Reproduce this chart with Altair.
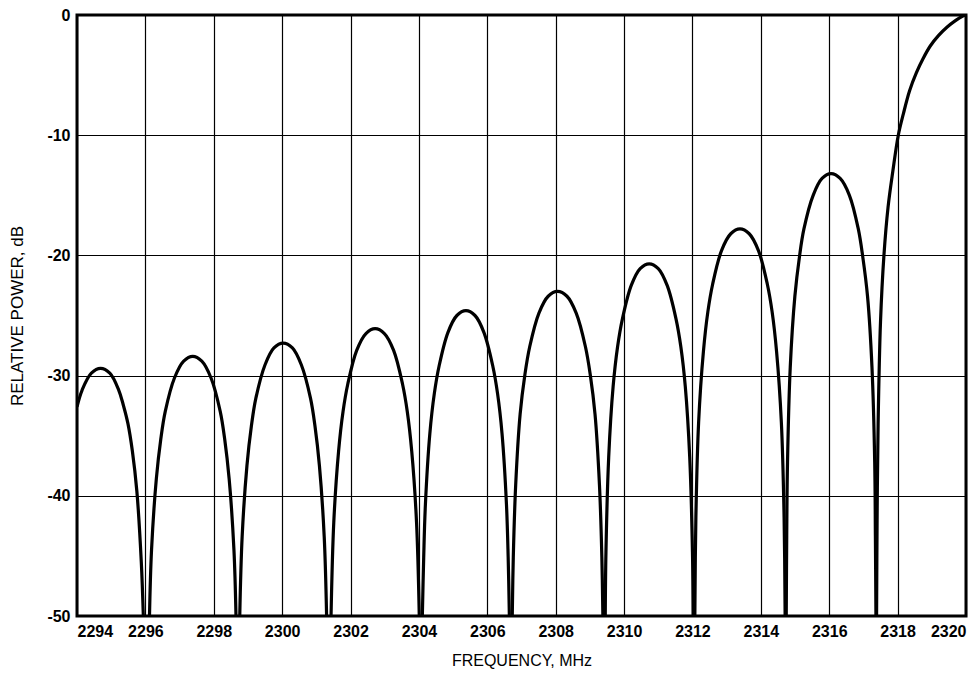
import altair as alt
import pandas as pd

# Frequency (MHz) and relative power (dB) estimated along the plotted curve, lobe by lobe
FREQ_MHZ = [
    # sidelobe 1 (enters at left edge)
    2294.00, 2294.15, 2294.42, 2294.69, 2294.96, 2295.22, 2295.35, 2295.49, 2295.62, 2295.75, 2295.88, 2295.94,
    # sidelobe 2
    2296.12, 2296.18, 2296.32, 2296.45, 2296.58, 2296.85, 2297.12, 2297.385, 2297.65, 2297.92, 2298.19, 2298.32, 2298.45, 2298.59, 2298.65,
    # sidelobe 3
    2298.76, 2298.83, 2298.97, 2299.10, 2299.23, 2299.50, 2299.76, 2300.03, 2300.30, 2300.56, 2300.83, 2300.96, 2301.09, 2301.23, 2301.30,
    # sidelobe 4
    2301.43, 2301.51, 2301.65, 2301.78, 2301.92, 2302.18, 2302.45, 2302.72, 2302.99, 2303.26, 2303.52, 2303.66, 2303.79, 2303.93, 2304.01,
    # sidelobe 5
    2304.10, 2304.14, 2304.19, 2304.32, 2304.45, 2304.59, 2304.85, 2305.11, 2305.375, 2305.64, 2305.90, 2306.16, 2306.30, 2306.43, 2306.56, 2306.61, 2306.645,
    # sidelobe 6
    2306.73, 2306.76, 2306.83, 2306.96, 2307.10, 2307.24, 2307.51, 2307.78, 2308.055, 2308.33, 2308.60, 2308.87, 2309.01, 2309.15, 2309.28, 2309.35, 2309.38,
    # sidelobe 7
    2309.45, 2309.47, 2309.55, 2309.68, 2309.81, 2309.95, 2310.21, 2310.47, 2310.735, 2311.00, 2311.26, 2311.52, 2311.66, 2311.79, 2311.92, 2312.00, 2312.02,
    # sidelobe 8
    2312.07, 2312.10, 2312.18, 2312.32, 2312.45, 2312.59, 2312.85, 2313.12, 2313.39, 2313.66, 2313.93, 2314.19, 2314.33, 2314.46, 2314.60, 2314.68, 2314.71,
    # sidelobe 9
    2314.743, 2314.757, 2314.78, 2314.86, 2314.995, 2315.13, 2315.26, 2315.53, 2315.79, 2316.055, 2316.32, 2316.59, 2316.85, 2316.98, 2317.12, 2317.25, 2317.33, 2317.35, 2317.366,
    # main lobe
    2317.385, 2317.40, 2317.43, 2317.50, 2317.60, 2317.72, 2317.86, 2318.02, 2318.17, 2318.35, 2318.55, 2318.75, 2318.95, 2319.20, 2319.45, 2319.70, 2319.88, 2320.00,
]
POWER_DB = [
    -32.6, -31.2, -29.8, -29.4, -29.8, -31.2, -32.4, -34.0, -36.3, -39.6, -45.5, -50.0,
    -50.0, -44.5, -38.6, -35.3, -33.0, -30.2, -28.8, -28.4, -28.8, -30.2, -33.0, -35.3, -38.6, -44.5, -50.0,
    -50.0, -43.4, -37.5, -34.2, -31.9, -29.1, -27.7, -27.3, -27.7, -29.1, -31.9, -34.2, -37.5, -43.4, -50.0,
    -50.0, -42.2, -36.3, -33.0, -30.7, -27.9, -26.5, -26.1, -26.5, -27.9, -30.7, -33.0, -36.3, -42.2, -50.0,
    -50.0, -45.1, -40.7, -34.8, -31.5, -29.2, -26.4, -25.0, -24.6, -25.0, -26.4, -29.2, -31.5, -34.8, -40.7, -45.1, -50.0,
    -50.0, -45.1, -39.1, -33.2, -29.9, -27.6, -24.8, -23.4, -23.0, -23.4, -24.8, -27.6, -29.9, -33.2, -39.1, -45.1, -50.0,
    -50.0, -44.7, -36.8, -30.9, -27.6, -25.3, -22.5, -21.1, -20.7, -21.1, -22.5, -25.3, -27.6, -30.9, -36.8, -44.7, -50.0,
    -50.0, -41.8, -33.9, -28.0, -24.7, -22.4, -19.6, -18.2, -17.8, -18.2, -19.6, -22.4, -24.7, -28.0, -33.9, -41.8, -50.0,
    -50.0, -43.3, -37.2, -29.3, -23.4, -20.1, -17.8, -15.0, -13.6, -13.2, -13.6, -15.0, -17.8, -20.1, -23.4, -29.3, -37.2, -43.3, -50.0,
    -50.0, -42.0, -34.0, -25.5, -20.0, -16.0, -13.0, -10.0, -8.2, -6.3, -4.8, -3.6, -2.6, -1.7, -1.0, -0.45, -0.12, 0.0,
]

X_TICKS = [2294, 2296, 2298, 2300, 2302, 2304, 2306, 2308, 2310, 2312, 2314, 2316, 2318, 2320]
Y_TICKS = [0, -10, -20, -30, -40, -50]

# split the trace into lobes where it touches the -50 dB floor twice in a row
lobe = []
k = 0
for i, p in enumerate(POWER_DB):
    if i > 0 and POWER_DB[i - 1] == -50.0 and p == -50.0:
        k += 1
    lobe.append(k)

df = pd.DataFrame({"freq": FREQ_MHZ, "power": POWER_DB, "lobe": lobe})

FONT = "Liberation Sans"

chart = (
    alt.Chart(df)
    .mark_line(color="black", strokeWidth=3.2, interpolate="catmull-rom", clip=True)
    .encode(
        x=alt.X(
            "freq:Q",
            scale=alt.Scale(domain=[2294, 2320], nice=False, zero=False),
            axis=alt.Axis(
                values=X_TICKS,
                format="d",
                title="FREQUENCY, MHz",
                labelFlush=True,
                labelPadding=7,
                titlePadding=13,
            ),
        ),
        y=alt.Y(
            "power:Q",
            scale=alt.Scale(domain=[-50, 0], nice=False, zero=False),
            axis=alt.Axis(
                values=Y_TICKS,
                labelExpr="datum.value + ''",
                title="RELATIVE POWER, dB",
                labelPadding=7,
                titlePadding=20,
                titleFontSize=17,
            ),
        ),
        detail="lobe:N",
    )
    .properties(
        width=889,
        height=601,
        autosize=alt.AutoSizeParams(type="none"),
        padding={"left": 69, "top": 7, "right": 2, "bottom": 53},
        background="white",
    )
    .configure_view(stroke="black", strokeWidth=3)
    .configure_axis(
        grid=True,
        gridColor="black",
        gridWidth=1.2,
        gridOpacity=1,
        domain=False,
        ticks=False,
        labelFont=FONT,
        labelFontSize=16,
        labelFontWeight="bold",
        labelColor="black",
        titleFont=FONT,
        titleFontSize=16,
        titleFontWeight="normal",
        titleColor="black",
    )
)

chart.save("out.html", embed_options={"renderer": "svg", "actions": False})
